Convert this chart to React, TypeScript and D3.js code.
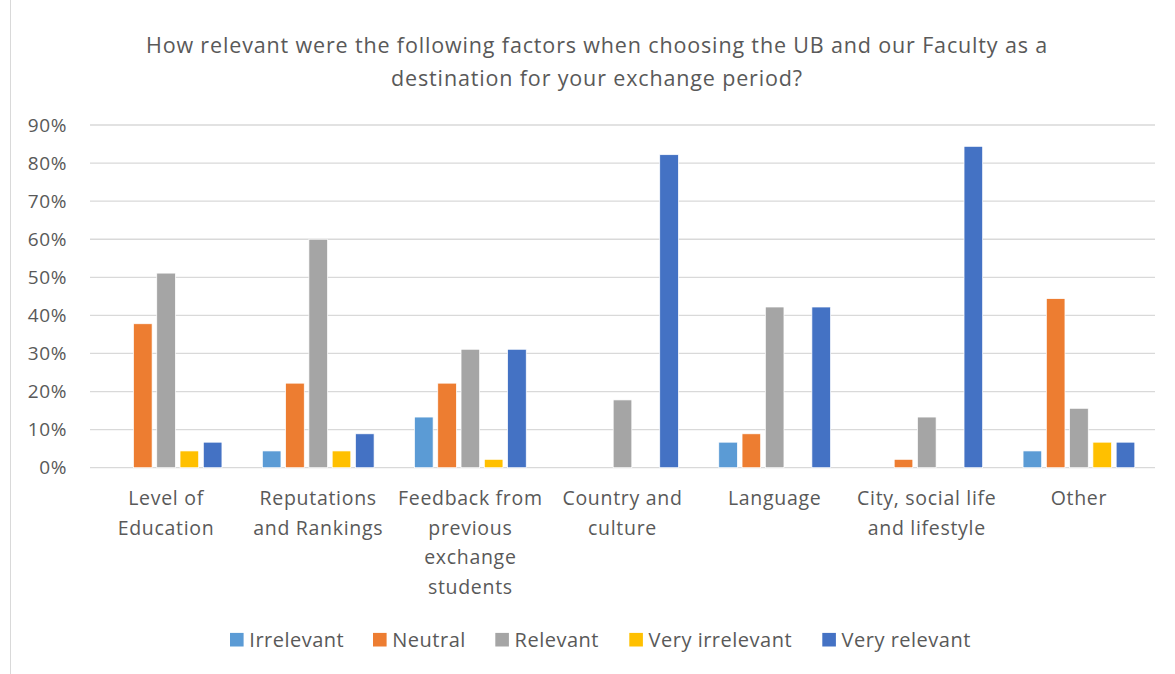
import React, { useEffect } from "react";
import * as d3 from "d3";

const categories = [
  ["Level of", "Education"],
  ["Reputations", "and Rankings"],
  ["Feedback from", "previous", "exchange", "students"],
  ["Country and", "culture"],
  ["Language"],
  ["City, social life", "and lifestyle"],
  ["Other"],
];
const seriesNames = ["Irrelevant", "Neutral", "Relevant", "Very irrelevant", "Very relevant"];
const seriesColors = ["#5b9bd5", "#ed7d31", "#a5a5a5", "#ffc000", "#4472c4"];

// one array per series, percent per category
const irrelevant = [0, 4.4, 13.3, 0, 6.7, 0, 4.4];
const neutral = [37.8, 22.2, 22.2, 0, 8.9, 2.2, 44.4];
const relevant = [51.1, 60.0, 31.1, 17.8, 42.2, 13.3, 15.6];
const veryIrrelevant = [4.4, 4.4, 2.2, 0, 0, 0, 6.7];
const veryRelevant = [6.7, 8.9, 31.1, 82.2, 42.2, 84.4, 6.7];
const seriesValues = [irrelevant, neutral, relevant, veryIrrelevant, veryRelevant];

const yTicks = [0, 10, 20, 30, 40, 50, 60, 70, 80, 90];
const titleLines = [
  "How relevant were the following factors when choosing the UB and our Faculty as a",
  "destination for your exchange period?",
];

const W = 1175;
const H = 674;
const FONT = "'Open Sans', sans-serif";
const TEXT = "#595959";

export default function App() {
  useEffect(() => {
    document.body.style.margin = "0";
  }, []);

  const left = 90;
  const right = 1155;
  const top = 125;
  const bottom = 467.7;

  const y = d3.scaleLinear().domain([0, 90]).range([bottom, top]);
  const x0 = d3
    .scaleBand<number>()
    .domain(d3.range(categories.length))
    .range([left, right]);
  const inner = 20.2;
  const x1 = d3
    .scaleBand<number>()
    .domain(d3.range(seriesNames.length))
    .range([inner, x0.bandwidth() - inner])
    .paddingInner(0.2);

  const legendX = [230, 373, 495.3, 629.3, 822.3];

  return (
    <svg width={W} height={H} style={{ display: "block" }} fontFamily={FONT}>
      <rect x={0} y={0} width={W} height={H} fill="#fff" />
      <line x1={10.5} x2={10.5} y1={0} y2={H} stroke="#d9d9d9" />

      {titleLines.map((t, i) => (
        <text
          key={i}
          x={597}
          y={45 + i * 33}
          dy="0.35em"
          textAnchor="middle"
          fontSize={21.5}
          letterSpacing={0.85}
          fill={TEXT}
        >
          {t}
        </text>
      ))}

      {yTicks.map((t) => (
        <g key={t}>
          <line x1={left} x2={right} y1={y(t)} y2={y(t)} stroke="#d9d9d9" strokeWidth={1.3} />
          <text
            x={67}
            y={y(t)}
            dy="0.35em"
            textAnchor="end"
            fontSize={19}
            letterSpacing={0.6}
            fill={TEXT}
          >
            {t}%
          </text>
        </g>
      ))}

      {categories.map((lines, ci) => (
        <g key={ci} transform={`translate(${x0(ci)},0)`}>
          {seriesValues.map((vals, si) =>
            vals[ci] > 0 ? (
              <rect
                key={si}
                x={x1(si)}
                y={y(vals[ci])}
                width={x1.bandwidth()}
                height={bottom - y(vals[ci])}
                fill={seriesColors[si]}
                stroke="#fff"
                strokeWidth={0.7}
              />
            ) : null
          )}
          {lines.map((l, li) => (
            <text
              key={li}
              x={x0.bandwidth() / 2}
              y={498 + li * 29.8}
              dy="0.35em"
              textAnchor="middle"
              fontSize={19.5}
              letterSpacing={0.7}
              fill={TEXT}
            >
              {l}
            </text>
          ))}
        </g>
      ))}

      {seriesNames.map((s, i) => (
        <g key={s} transform={`translate(${legendX[i]},639.7)`}>
          <rect x={0} y={-6.8} width={13.6} height={13.6} fill={seriesColors[i]} />
          <text x={19.3} y={0} dy="0.35em" fontSize={20} letterSpacing={0.5} fill={TEXT}>
            {s}
          </text>
        </g>
      ))}
    </svg>
  );
}
